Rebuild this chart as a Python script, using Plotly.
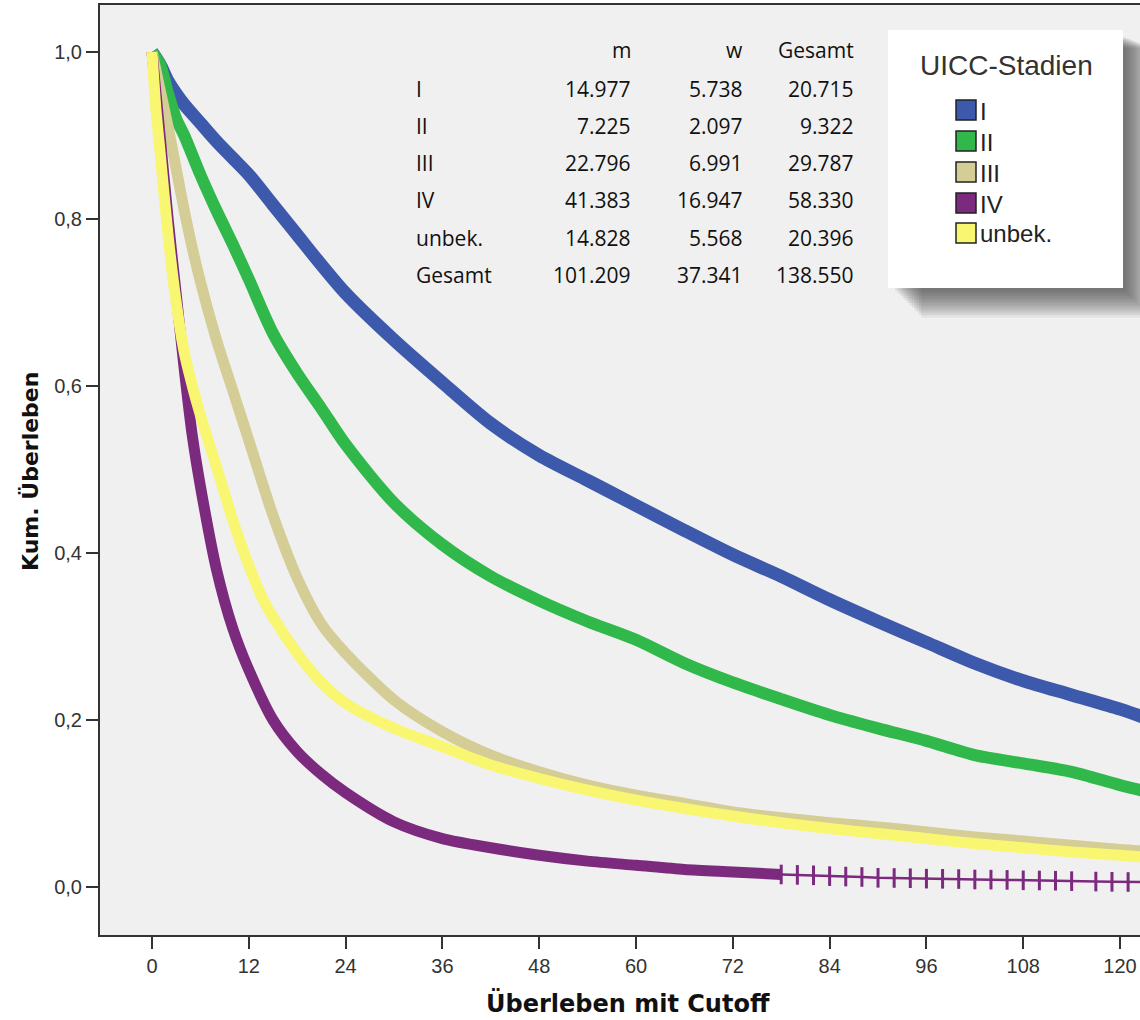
import plotly.graph_objects as go

# ---------------- data ----------------
months_I = [0, 1, 2, 3, 4, 6, 8, 10, 12, 15, 18, 21, 24, 30, 36, 42, 48, 54, 60, 66, 72, 78, 84, 90, 96, 102, 108, 114, 120, 123]
surv_I = [1.0, 0.985, 0.965, 0.95, 0.937, 0.915, 0.893, 0.873, 0.853, 0.817, 0.781, 0.745, 0.711, 0.655, 0.604, 0.555,
          0.517, 0.487, 0.457, 0.427, 0.398, 0.372, 0.344, 0.318, 0.293, 0.268, 0.247, 0.23, 0.213, 0.203]

months_II = [0, 1, 2, 3, 4, 6, 8, 10, 12, 15, 18, 21, 24, 30, 36, 42, 48, 54, 60, 66, 72, 78, 84, 90, 96, 102, 108, 114, 120, 123]
surv_II = [1.0, 0.985, 0.95, 0.92, 0.9, 0.853, 0.81, 0.77, 0.728, 0.663, 0.615, 0.573, 0.53, 0.46, 0.41, 0.372,
           0.343, 0.318, 0.296, 0.268, 0.245, 0.225, 0.206, 0.19, 0.175, 0.158, 0.148, 0.138, 0.122, 0.115]

months_III = [0, 1, 2, 3, 4, 5, 6, 8, 10, 12, 15, 18, 21, 24, 30, 36, 42, 48, 54, 60, 66, 72, 78, 84, 90, 96, 102, 108, 114, 120, 123]
surv_III = [1.0, 0.955, 0.91, 0.86, 0.81, 0.765, 0.725, 0.655, 0.595, 0.535, 0.445, 0.37, 0.315, 0.28, 0.224, 0.186,
            0.158, 0.138, 0.122, 0.11, 0.1, 0.09, 0.083, 0.077, 0.072, 0.066, 0.06, 0.055, 0.05, 0.045, 0.043]

months_IV = [0, 0.5, 1, 2, 3, 4, 5, 6, 8, 10, 12, 15, 18, 21, 24, 30, 36, 42, 48, 54, 60, 66, 72, 78]
surv_IV = [1.0, 0.95, 0.9, 0.8, 0.71, 0.62, 0.54, 0.48, 0.38, 0.31, 0.26, 0.2, 0.162, 0.135, 0.113, 0.078, 0.058,
           0.047, 0.038, 0.031, 0.026, 0.021, 0.018, 0.015]
months_IV_tail = [78, 80, 82, 84, 86, 88, 90, 92, 94, 96, 98, 100, 102, 104, 106, 108, 110, 112, 114, 117, 119, 121, 123]
surv_IV_tail = [0.015, 0.0145, 0.014, 0.013, 0.0125, 0.012, 0.011, 0.0108, 0.0105, 0.01, 0.0098, 0.0095, 0.009,
                0.0088, 0.0085, 0.008, 0.0078, 0.0075, 0.007, 0.0065, 0.0062, 0.006, 0.006]

months_unb = [0, 0.5, 1, 2, 3, 4, 5, 6, 8, 10, 12, 14, 18, 21, 24, 30, 36, 42, 48, 54, 60, 66, 72, 78, 84, 90, 96, 102, 108, 114, 120, 123]
surv_unb = [1.0, 0.93, 0.88, 0.78, 0.7, 0.64, 0.6, 0.565, 0.503, 0.44, 0.385, 0.34, 0.28, 0.245, 0.22, 0.19, 0.168,
            0.146, 0.13, 0.116, 0.104, 0.094, 0.085, 0.077, 0.07, 0.064, 0.058, 0.052, 0.047, 0.042, 0.038, 0.036]

legend_labels = ["I", "II", "III", "IV", "unbek."]
legend_colors = ["#3d59ab", "#30b84a", "#d4cd96", "#7b2a7e", "#f9f672"]

table_header = ["m", "w", "Gesamt"]
table_rows = ["I", "II", "III", "IV", "unbek.", "Gesamt"]
table_m = ["14.977", "7.225", "22.796", "41.383", "14.828", "101.209"]
table_w = ["5.738", "2.097", "6.991", "16.947", "5.568", "37.341"]
table_ges = ["20.715", "9.322", "29.787", "58.330", "20.396", "138.550"]

x_ticks = [0, 12, 24, 36, 48, 60, 72, 84, 96, 108, 120]
y_ticks = [0.0, 0.2, 0.4, 0.6, 0.8, 1.0]

# ---------------- figure ----------------
W, H = 1140, 1020
L, R, T, B = 100, 1140, 5, 935


def px(xp):
    return (xp - L) / (R - L)


def py(yp):
    return (B - yp) / (B - T)


fig = go.Figure()

series = [
    (months_I, surv_I, legend_colors[0], 13),
    (months_II, surv_II, legend_colors[1], 12),
    (months_III, surv_III, legend_colors[2], 11),
    (months_IV, surv_IV, legend_colors[3], 11),
]
for xs, ys, c, w in series:
    fig.add_trace(go.Scatter(x=xs, y=ys, mode="lines", line=dict(color=c, width=w, shape="spline", smoothing=0.8),
                             showlegend=False, hoverinfo="skip"))
fig.add_trace(go.Scatter(x=months_IV_tail, y=surv_IV_tail, mode="lines+markers",
                         line=dict(color=legend_colors[3], width=2.5),
                         marker=dict(symbol="line-ns", size=14, line=dict(color=legend_colors[3], width=3)),
                         showlegend=False, hoverinfo="skip"))
fig.add_trace(go.Scatter(x=months_unb, y=surv_unb, mode="lines",
                         line=dict(color=legend_colors[4], width=11, shape="spline", smoothing=0.8),
                         showlegend=False, hoverinfo="skip"))

shapes = []
# legend shadow (layered soft rectangles)
for i in range(12):
    off = 3 + i * 2.4
    shapes.append(dict(type="rect", xref="paper", yref="paper",
                       x0=px(892 + off), x1=px(1123 + off), y0=py(288 + off), y1=py(36 + off * 0.4),
                       fillcolor="rgba(50,50,50,0.08)", line=dict(width=0), layer="above"))
shapes.append(dict(type="rect", xref="paper", yref="paper", x0=px(888), x1=px(1123), y0=py(288), y1=py(30),
                   fillcolor="white", line=dict(width=0), layer="above"))

annotations = []
annotations.append(dict(x=px(1006), y=py(66), xref="paper", yref="paper", text="UICC-Stadien", showarrow=False,
                        font=dict(family="Liberation Sans, Arial", size=28, color="#333333"),
                        xanchor="center", yanchor="middle"))
row_y = [110, 141, 172, 203, 233]
for lab, col, yy in zip(legend_labels, legend_colors, row_y):
    shapes.append(dict(type="rect", xref="paper", yref="paper", x0=px(956), x1=px(976), y0=py(yy + 10),
                       y1=py(yy - 10), fillcolor=col, line=dict(color="#222222", width=1.5), layer="above"))
    annotations.append(dict(x=px(978), y=py(yy + 1), xref="paper", yref="paper", text=lab, showarrow=False,
                            font=dict(family="Liberation Sans Narrow, Liberation Sans, Arial", size=24,
                                      color="#222222"),
                            xanchor="left", yanchor="middle"))

# table
tfont = dict(family="Open Sans, Lato, sans-serif", size=21, color="#111111")
row_ys = [89, 126, 163, 200, 238, 275]
col_x = [633, 745, 856]
for cx, h in zip(col_x, table_header):
    annotations.append(dict(x=px(cx), y=py(50), xref="paper", yref="paper", text=h, showarrow=False,
                            font=tfont, xanchor="right", yanchor="middle"))
for i, yy in enumerate(row_ys):
    annotations.append(dict(x=px(414), y=py(yy), xref="paper", yref="paper", text=table_rows[i], showarrow=False,
                            font=tfont, xanchor="left", yanchor="middle"))
    for cx, vals in zip(col_x, [table_m, table_w, table_ges]):
        annotations.append(dict(x=px(cx), y=py(yy), xref="paper", yref="paper", text=vals[i], showarrow=False,
                                font=tfont, xanchor="right", yanchor="middle"))

# axis titles
annotations.append(dict(x=px(628), y=py(1003), xref="paper", yref="paper", text="<b>Überleben mit Cutoff</b>",
                        showarrow=False, font=dict(family="DejaVu Sans, Arial", size=24, color="#111111"),
                        xanchor="center", yanchor="middle"))
annotations.append(dict(x=px(30), y=py(472), xref="paper", yref="paper", text="<b>Kum. Überleben</b>",
                        showarrow=False, textangle=-90,
                        font=dict(family="DejaVu Sans, Arial", size=22, color="#111111"),
                        xanchor="center", yanchor="middle"))

x0 = (L - 152) / 8.067
x1 = (R - 152) / 8.067
y0 = -(B - 887) / 835
y1 = 1 + (52 - T) / 835

fig.update_layout(
    width=W, height=H,
    margin=dict(l=L, r=W - R, t=T, b=H - B, pad=0),
    paper_bgcolor="white",
    plot_bgcolor="#f0f0f0",
    separators=",.",
    shapes=shapes,
    annotations=annotations,
    xaxis=dict(range=[x0, x1], tickvals=x_ticks, ticks="outside", ticklen=12, tickwidth=2, tickcolor="#333333",
               showgrid=False, zeroline=False, showline=True, linecolor="#333333", linewidth=2, mirror=True,
               tickfont=dict(family="Liberation Sans, Arial", size=20, color="#333333")),
    yaxis=dict(range=[y0, y1], tickvals=y_ticks, tickformat=".1f", ticks="outside", ticklen=12, tickwidth=2,
               tickcolor="#333333", showgrid=False, zeroline=False, showline=True, linecolor="#333333",
               linewidth=2, mirror=False,
               tickfont=dict(family="Liberation Sans, Arial", size=20, color="#333333")),
)

fig.write_html("out.html")
